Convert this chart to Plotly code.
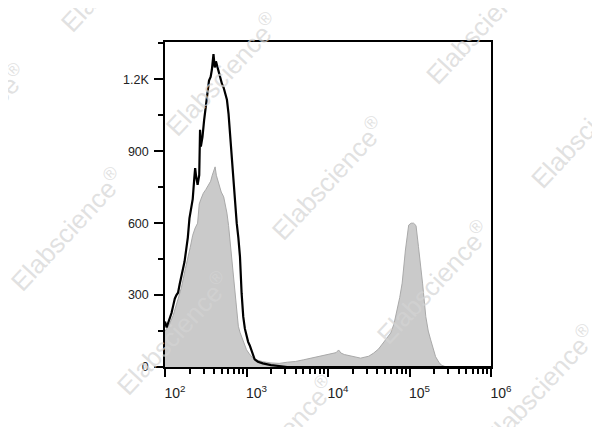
import plotly.graph_objects as go

# ---------------- data (x given as log10 of fluorescence) ----------------
black_log = [2.00, 2.02, 2.04, 2.06, 2.08, 2.10, 2.12, 2.14, 2.16, 2.18, 2.20, 2.22,
             2.24, 2.26, 2.28, 2.30, 2.32, 2.34, 2.36, 2.37, 2.38, 2.40, 2.42, 2.43,
             2.44, 2.46, 2.48, 2.50, 2.52, 2.54, 2.56, 2.575, 2.595, 2.61, 2.625, 2.64,
             2.66, 2.68, 2.70, 2.72, 2.74, 2.76, 2.78, 2.80, 2.82, 2.84, 2.86, 2.88,
             2.90, 2.92, 2.94, 2.96, 2.98, 3.00, 3.02, 3.04, 3.06, 3.08, 3.10, 3.14,
             3.20, 3.30, 3.40, 3.50, 4.00, 5.00, 6.00]
black_count = [190, 165, 185, 205, 225, 255, 285, 300, 310, 345, 380, 400,
               440, 490, 540, 620, 660, 700, 790, 830, 800, 760, 800, 990,
               920, 960, 1030, 1080, 1150, 1195, 1210, 1240, 1305, 1250, 1275, 1255,
               1230, 1195, 1180, 1165, 1140, 1115, 1055, 960, 870, 780, 684, 600,
               540, 460, 308, 210, 160, 126, 105, 90, 70, 45, 32, 22,
               15, 8, 3, 0, 0, 0, 0]

gray_log = [2.00, 2.05, 2.10, 2.15, 2.20, 2.25, 2.28, 2.31, 2.34, 2.37, 2.40, 2.42,
            2.44, 2.47, 2.50, 2.53, 2.56, 2.58, 2.60, 2.615, 2.63, 2.66, 2.69, 2.72,
            2.74, 2.76, 2.78, 2.80, 2.82, 2.84, 2.86, 2.88, 2.90, 2.92, 2.94, 2.96,
            2.98, 3.00, 3.03, 3.07, 3.13, 3.20, 3.30, 3.40, 3.50, 3.60, 3.70, 3.80,
            3.90, 4.00, 4.06, 4.10, 4.13, 4.16, 4.20, 4.25, 4.30, 4.40, 4.50, 4.56,
            4.62, 4.68, 4.72, 4.77, 4.81, 4.85, 4.88, 4.91, 4.95, 4.99, 5.02, 5.05,
            5.08, 5.11, 5.14, 5.16, 5.20, 5.23, 5.26, 5.29, 5.32, 5.36, 5.39, 5.45, 6.00]
gray_count = [150, 175, 215, 270, 330, 410, 450, 500, 550, 580, 600, 680,
              700, 725, 740, 760, 775, 800, 820, 835, 800, 767, 730, 710,
              680, 642, 590, 520, 430, 350, 280, 210, 170, 145, 125, 110,
              90, 72, 57, 40, 29, 22, 17, 15, 20, 23, 30, 37,
              43, 50, 55, 60, 71, 58, 52, 48, 42, 37, 45, 58,
              75, 100, 120, 142, 180, 238, 290, 350, 488, 592, 600, 600,
              590, 502, 420, 350, 210, 150, 113, 75, 43, 20, 8, 0, 0]

x_tick_exp = [2, 3, 4, 5, 6]
y_tick_vals = [0, 300, 600, 900, 1200]
y_tick_text = ["0", "300", "600", "900", "1.2K"]
y_minor_vals = [150, 450, 750, 1050, 1350]

# ---------------- figure ----------------
# the page body has an 8px default margin, so the figure is placed at (8, 8)
OFF = 8
W, H = 600 - OFF, 427 - OFF
ML, MT = 165 - OFF, 42 - OFF
PW, PH = 326, 325
MR, MB = W - ML - PW, H - MT - PH

fig = go.Figure()
fig.add_trace(go.Scatter(
    x=[10 ** v for v in gray_log], y=gray_count, mode="lines",
    fill="tozeroy", fillcolor="#cacaca",
    line=dict(color="#a9a9a9", width=1), hoverinfo="skip"))
fig.add_trace(go.Scatter(
    x=[10 ** v for v in black_log], y=black_count, mode="lines",
    line=dict(color="#000000", width=2.2), hoverinfo="skip"))

x_minor = [k * 10 ** n for n in range(2, 6) for k in range(2, 10)]

fig.update_layout(
    width=W, height=H, margin=dict(l=ML, r=MR, t=MT, b=MB, pad=0),
    paper_bgcolor="white", plot_bgcolor="white", showlegend=False,
    font=dict(family="Liberation Sans, Arial, sans-serif", size=12.5, color="#222"),
    xaxis=dict(type="log", range=[2, 6], showgrid=False, zeroline=False,
               showline=True, linecolor="black", linewidth=1.5, mirror=True,
               tickmode="array", tickvals=[10 ** e for e in x_tick_exp],
               ticktext=["10<sup>%d</sup>" % e for e in x_tick_exp],
               ticks="outside", ticklen=8, tickwidth=2, tickcolor="black",
               ticklabelshift=10, ticklabelstandoff=4, tickfont=dict(size=14),
               minor=dict(tickmode="array", tickvals=x_minor, ticks="outside",
                          ticklen=5, tickwidth=1.5, tickcolor="black")),
    yaxis=dict(range=[0, 1356], showgrid=False, zeroline=False,
               showline=True, linecolor="black", linewidth=1.5, mirror=True,
               tickmode="array", tickvals=y_tick_vals, ticktext=y_tick_text,
               ticks="outside", ticklen=9, tickwidth=2, tickcolor="black",
               ticklabelstandoff=3, tickfont=dict(size=12.5),
               minor=dict(tickmode="array", tickvals=y_minor_vals, ticks="outside",
                          ticklen=5, tickwidth=1.5, tickcolor="black")),
)

# watermarks (page-pixel centers)
wm_centers = [(117, -30), (222, 74), (328, 178), (433, 282), (539, 386),
              (-30, 125), (67, 229), (173, 333), (278, 437),
              (483, 23), (588, 127)]
for (px, py) in wm_centers:
    fx, fy = px - OFF, py - OFF
    fig.add_annotation(
        x=(fx - ML) / PW, y=(H - MB - fy) / PH, xref="paper", yref="paper",
        text="Elabscience<sup>®</sup>", showarrow=False, textangle=-47,
        xanchor="center", yanchor="middle",
        font=dict(family="Liberation Sans, Arial, sans-serif", size=26,
                  color="rgba(212,212,212,0.7)"))

fig.write_html("out.html")
